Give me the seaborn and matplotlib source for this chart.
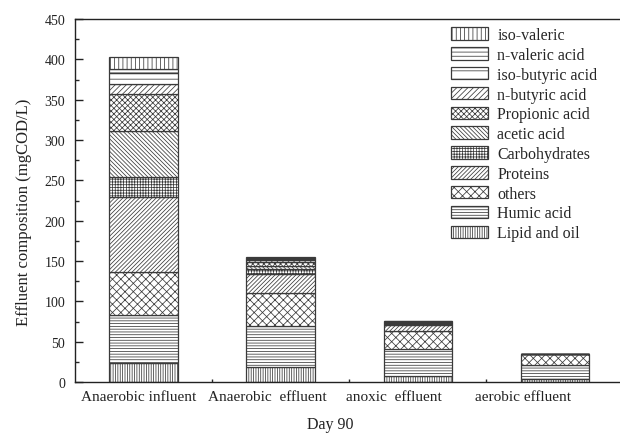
import numpy as np
import matplotlib
matplotlib.use("Agg")
import matplotlib.pyplot as plt
import matplotlib.transforms as mtransforms
from matplotlib.patches import Patch
from matplotlib.ticker import MultipleLocator, FixedLocator
import seaborn as sns

# Treatment stages (x categories)
stages = ["Anaerobic influent", "Anaerobic  effluent", "anoxic  effluent", "aerobic effluent"]

# Effluent composition per stage, mgCOD/L (stacked bottom -> top)
lipid_oil      = [23, 18, 8, 3.5]
humic_acid     = [60, 51, 33, 17.5]
others         = [53, 41, 22, 14]
proteins       = [93, 24, 7.5, 0]
carbohydrates  = [25, 6, 1.5, 0]
acetic_acid    = [57, 4, 1, 0]
propionic_acid = [46, 5, 1, 0]
n_butyric      = [13, 2, 0.5, 0]
iso_butyric    = [13, 1.5, 0.5, 0]
n_valeric      = [5, 1, 0.5, 0]
iso_valeric    = [15, 1.5, 0.5, 0]

labels = ["Lipid and oil", "Humic acid", "others", "Proteins", "Carbohydrates",
          "acetic acid", "Propionic acid", "n-butyric acid", "iso-butyric acid",
          "n-valeric acid", "iso-valeric"]
series = [lipid_oil, humic_acid, others, proteins, carbohydrates, acetic_acid,
          propionic_acid, n_butyric, iso_butyric, n_valeric, iso_valeric]
hatches = ["|||||||", "------", "xxxx", "////////", "++++++", "\\" * 8,
           "xxxxxx", "//////", "--", "----", "||||"]

EDGE = "#3a3a3a"

sns.set_style("ticks")
plt.rcParams["font.family"] = ["Liberation Serif", "DejaVu Serif"]
plt.rcParams["hatch.linewidth"] = 0.55
plt.rcParams["axes.linewidth"] = 1.0

fig = plt.figure(figsize=(6.2, 4.35), dpi=100)
ax = fig.add_axes([75 / 620, 52 / 435, 548.5 / 620, 363 / 435])

bottom = np.zeros(len(stages))
for name, vals, hatch in zip(labels, series, hatches):
    sns.barplot(x=stages, y=vals, bottom=bottom.copy(), width=0.5, color="white",
                saturation=1, edgecolor=EDGE, linewidth=0.9, hatch=hatch,
                errorbar=None, ax=ax)
    bottom += np.asarray(vals, dtype=float)

ax.set_xlim(-0.5, 3.5)
ax.set_ylim(0, 450)

# y axis ticks
ax.yaxis.set_major_locator(MultipleLocator(50))
ax.yaxis.set_minor_locator(MultipleLocator(25))
ax.tick_params(axis="y", which="major", direction="in", length=5.8, width=1.0,
               labelsize=10, pad=7, colors="#222222")
ax.tick_params(axis="y", which="minor", direction="in", length=3, width=1.0)

# x axis ticks: marks at bar centres and between bars
ax.set_xticks(range(len(stages)))
ax.set_xticklabels(stages)
ax.xaxis.set_minor_locator(FixedLocator([0.5, 1.5, 2.5]))
ax.tick_params(axis="x", which="major", direction="in", length=4.5, width=1.0,
               labelsize=11, pad=6, colors="#222222")
ax.tick_params(axis="x", which="minor", direction="in", length=2.5, width=1.0)

label_shift = [-5, -13, -24, -32]
for lab, dx in zip(ax.get_xticklabels(), label_shift):
    lab.set_transform(lab.get_transform() +
                      mtransforms.ScaledTranslation(dx / 100, 0, fig.dpi_scale_trans))

for side in ["top", "right", "left", "bottom"]:
    ax.spines[side].set_visible(True)
    ax.spines[side].set_color("#222222")

ax.set_ylabel("Effluent composition (mgCOD/L)", fontsize=12, color="#222222")
ax.set_xlabel("Day 90", fontsize=11.5, color="#222222")
ax.yaxis.set_label_coords(-0.078, 0.47)
ax.xaxis.set_label_coords(0.465, -0.094)

handles = [Patch(facecolor="white", edgecolor=EDGE, linewidth=0.9, hatch=h, label=l)
           for l, h in zip(labels, hatches)][::-1]
ax.legend(handles=handles, loc="upper left", bbox_to_anchor=(451 / 620, 1 - 28 / 435),
          bbox_transform=fig.transFigure, frameon=False, fontsize=11.5,
          handlelength=2.3, handleheight=0.82, handletextpad=0.6,
          labelspacing=0.24, borderpad=0, borderaxespad=0)

fig.savefig("out.png", dpi=100)
